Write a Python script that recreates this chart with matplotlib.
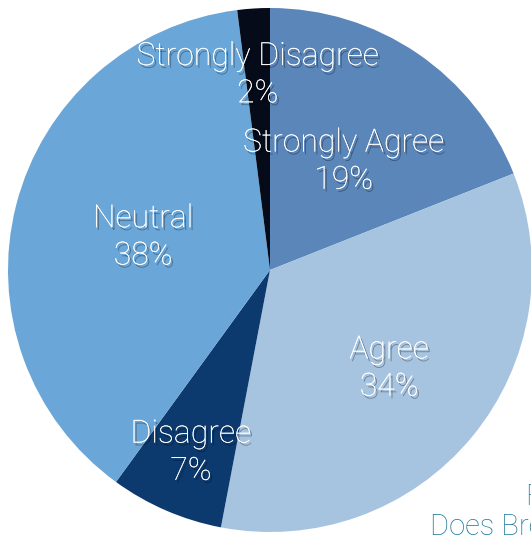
import numpy as np
import matplotlib
matplotlib.use("Agg")
import matplotlib.pyplot as plt
import matplotlib.patheffects as pe

# survey responses, clockwise from 12 o'clock
categories = ["Strongly Agree", "Agree", "Disagree", "Neutral", "Strongly Disagree"]
percents = [19, 34, 7, 38, 2]
colors = ["#5b86b9", "#a6c4e0", "#0c3a6f", "#6aa7d8", "#060b19"]

# how far out (fraction of radius) each label sits along its wedge
label_r = [0.50, 0.59, 0.76, 0.50, 0.745]

W, H = 531, 535
cx, cy, R = 270, 270, 262  # pie centre/radius in pixels

fig = plt.figure(figsize=(W / 100, H / 100), dpi=100)
ax = fig.add_axes([0, 0, 1, 1])

wedges, _ = ax.pie(percents, colors=colors, startangle=90, counterclock=False,
                   radius=1, center=(0, 0), frame=True,
                   wedgeprops=dict(linewidth=0))
ax.set_xlim(-cx / R, (W - cx) / R)
ax.set_ylim(-(H - cy) / R, cy / R)
ax.set_aspect("equal")
ax.axis("off")

shadow = [pe.withSimplePatchShadow(offset=(1.5, -2), shadow_rgbFace="black", alpha=0.35),
          pe.Normal()]

for w, name, pct, r in zip(wedges, categories, percents, label_r):
    mid = np.deg2rad((w.theta1 + w.theta2) / 2)
    ax.text(r * np.cos(mid), r * np.sin(mid), f"{name}\n{pct}%",
            ha="center", va="center", color="white", fontsize=23,
            family="Roboto", fontweight="light", linespacing=1.36,
            path_effects=shadow)

# caption running off the lower right corner
fig.text(525 / W, 1 - 497 / H, "F", color="#1f7a9c", fontsize=21,
         family="Roboto", fontweight="light", ha="left", va="center")
fig.text(430 / W, 1 - 527 / H, "Does Bre", color="#1f7a9c", fontsize=21,
         family="Roboto", fontweight="light", ha="left", va="center")

fig.savefig("out.png", dpi=100)
